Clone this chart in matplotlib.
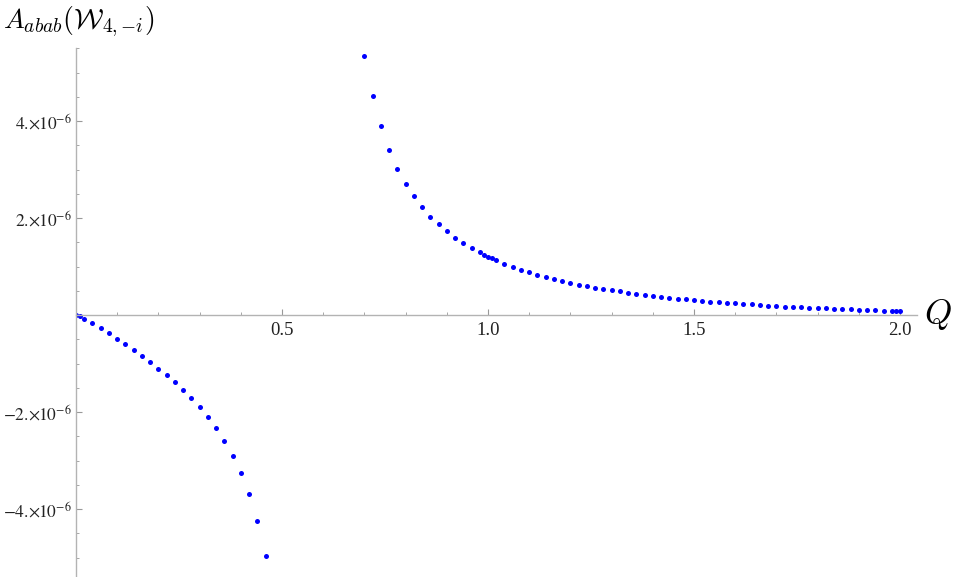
import numpy as np
import matplotlib
matplotlib.use("Agg")
import matplotlib.pyplot as plt
from matplotlib.ticker import FixedLocator, FixedFormatter, MultipleLocator

# Левая ветвь (Q < 0.5)
q_left = [0.00, 0.01, 0.02, 0.04, 0.06, 0.08, 0.10, 0.12, 0.14, 0.16, 0.18, 0.20,
          0.22, 0.24, 0.26, 0.28, 0.30, 0.32, 0.34, 0.36, 0.38, 0.40, 0.42, 0.44, 0.46]
a_left = [0.0, -0.03, -0.08, -0.165, -0.27, -0.38, -0.49, -0.60, -0.73, -0.845, -0.975, -1.11,
          -1.245, -1.39, -1.55, -1.71, -1.905, -2.10, -2.33, -2.60, -2.90, -3.26, -3.70, -4.24, -4.97]

# Правая ветвь (Q >= 0.7)
q_right = [0.70, 0.72, 0.74, 0.76, 0.78, 0.80, 0.82, 0.84, 0.86, 0.88, 0.90, 0.92, 0.94, 0.96,
           0.98, 0.99, 1.00, 1.01, 1.02, 1.04, 1.06, 1.08, 1.10, 1.12, 1.14, 1.16, 1.18, 1.20,
           1.22, 1.24, 1.26, 1.28, 1.30, 1.32, 1.34, 1.36, 1.38, 1.40, 1.42, 1.44, 1.46, 1.48,
           1.50, 1.52, 1.54, 1.56, 1.58, 1.60, 1.62, 1.64, 1.66, 1.68, 1.70, 1.72, 1.74, 1.76,
           1.78, 1.80, 1.82, 1.84, 1.86, 1.88, 1.90, 1.92, 1.94, 1.96, 1.98, 1.99, 2.00]
a_right = [5.35, 4.51, 3.89, 3.41, 3.02, 2.71, 2.45, 2.23, 2.03, 1.87, 1.73, 1.59, 1.48, 1.38,
           1.29, 1.24, 1.20, 1.17, 1.13, 1.06, 1.00, 0.93, 0.88, 0.83, 0.78, 0.74, 0.70, 0.67,
           0.625, 0.60, 0.565, 0.53, 0.51, 0.49, 0.46, 0.43, 0.41, 0.39, 0.37, 0.36, 0.34, 0.32,
           0.31, 0.29, 0.275, 0.26, 0.25, 0.24, 0.23, 0.22, 0.205, 0.19, 0.185, 0.17, 0.165, 0.16,
           0.15, 0.145, 0.14, 0.13, 0.125, 0.12, 0.11, 0.105, 0.10, 0.09, 0.09, 0.088, 0.087]

y_ticks = [-4e-6, -2e-6, 2e-6, 4e-6]
y_tick_labels = [r"$-4.\!\!\times\!\!10^{-6}$", r"$-2.\!\!\times\!\!10^{-6}$",
                 r"$2.\!\!\times\!\!10^{-6}$", r"$4.\!\!\times\!\!10^{-6}$"]
x_ticks = [0.5, 1.0, 1.5, 2.0]
x_tick_labels = ["0.5", "1.0", "1.5", "2.0"]

plt.rcParams["font.family"] = ["Liberation Serif", "DejaVu Serif"]
plt.rcParams["mathtext.fontset"] = "stix"

fig = plt.figure(figsize=(9.54, 5.77), dpi=100)
ax = fig.add_axes([76 / 954, 0.0, 840.5 / 954, 1 - 48 / 577])

scale = 1e-6
ax.plot(q_left, np.array(a_left) * scale, "o", color="#0000ff", markersize=3.6, markeredgewidth=0)
ax.plot(q_right, np.array(a_right) * scale, "o", color="#0000ff", markersize=3.6, markeredgewidth=0)

ax.set_xlim(0, 2.04)
ax.set_ylim(-(577 - 315) / 48.5 * scale, (315 - 48) / 48.5 * scale)

# Оси через начало координат, как в Mathematica
for side in ["top", "right"]:
    ax.spines[side].set_visible(False)
ax.spines["bottom"].set_position(("data", 0))
ax.spines["left"].set_position(("data", 0))
for side in ["bottom", "left"]:
    ax.spines[side].set_color("#b3b3b3")
    ax.spines[side].set_linewidth(1.0)

ax.xaxis.set_major_locator(FixedLocator(x_ticks))
ax.xaxis.set_major_formatter(FixedFormatter(x_tick_labels))
ax.xaxis.set_minor_locator(MultipleLocator(0.1))
ax.yaxis.set_major_locator(FixedLocator(y_ticks))
ax.yaxis.set_major_formatter(FixedFormatter(y_tick_labels))
ax.yaxis.set_minor_locator(MultipleLocator(0.5e-6))

ax.tick_params(which="both", direction="in", color="#999999", labelcolor="#222222")
ax.tick_params(which="major", length=4, width=0.8)
ax.tick_params(which="minor", length=2.5, width=0.6)
ax.tick_params(axis="x", pad=5, labelsize=13.5)
ax.tick_params(axis="y", pad=3, labelsize=12.5)

fig.text(3 / 954, 1 - 28 / 577, r"$A_{abab}(\mathcal{W}_{4,{-}i})$", fontsize=20,
         math_fontfamily="cm", ha="left", va="baseline")
fig.text(938 / 954, 1 - 314 / 577, r"$Q$", fontsize=25, math_fontfamily="cm",
         ha="center", va="center")

fig.savefig("out.png", dpi=100)
